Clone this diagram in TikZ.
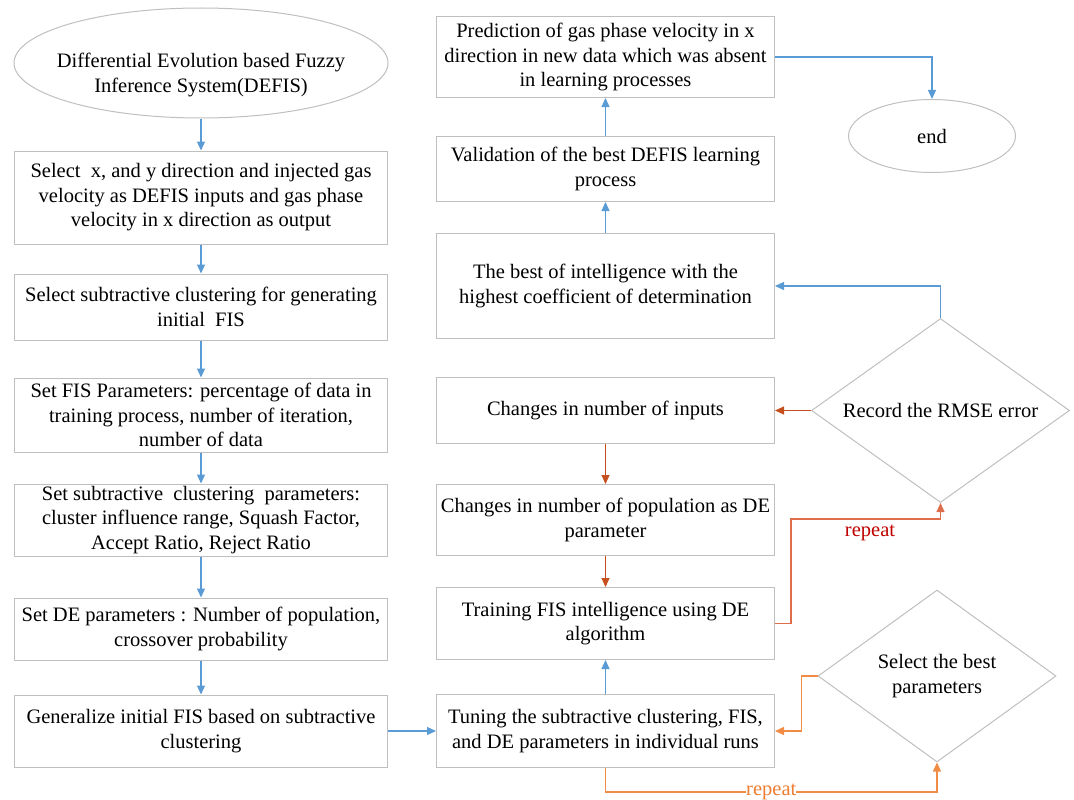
\documentclass[tikz,border=0pt]{standalone}
\usepackage{fontspec}
\setmainfont{Liberation Serif}
\usetikzlibrary{positioning,shapes.geometric,arrows.meta}
\definecolor{flowblue}{RGB}{91,155,213}
\definecolor{rustline}{RGB}{197,80,30}
\definecolor{repline}{RGB}{222,110,75}
\definecolor{repred}{RGB}{192,0,0}
\definecolor{orline}{RGB}{240,140,70}
\definecolor{ortext}{RGB}{237,125,49}
\definecolor{boxgray}{RGB}{191,191,191}

\begin{document}
\begin{tikzpicture}[x=1pt,y=-1pt,
    font=\fontsize{20.5}{24.5}\selectfont,
    every node/.style={align=center, inner sep=2pt},
    proc/.style={draw=boxgray, line width=1pt, minimum width=373pt},
    rproc/.style={draw=boxgray, line width=1pt, minimum width=338pt},
    term/.style={ellipse, draw=boxgray, line width=1pt},
    cond/.style={diamond, draw=boxgray, line width=1pt, inner sep=0pt, aspect=1.4},
    bluearr/.style={draw=flowblue, line width=1.2pt, -{Triangle[width=8pt,length=9pt]}},
    rustarr/.style={draw=rustline, line width=1.2pt, -{Triangle[width=8pt,length=9pt]}},
    reparr/.style={draw=repline, line width=1.2pt, -{Triangle[width=8pt,length=9pt]}},
    orarr/.style={draw=orline, line width=1.2pt, -{Triangle[width=8pt,length=9pt]}}]
      \useasboundingbox (0,0) rectangle (1074,800);

      % Left column, top to bottom
      \node[term, inner xsep=-16pt, inner ysep=12pt, minimum width=374pt, minimum height=110pt] (start) at (201,63)
        {\raisebox{-12pt}[\height][\depth]{\begin{tabular}{@{}c@{}}Differential Evolution based Fuzzy\\Inference System(DEFIS)\end{tabular}}};
      \node[proc, minimum height=93pt, below=32pt of start] (sel1)
        {Select\ \ x, and y direction and injected gas\\velocity as DEFIS inputs and gas phase\\velocity in x direction as output};
      \node[proc, minimum height=66pt, below=29pt of sel1] (sel2)
        {Select subtractive clustering for generating\\initial\ \ FIS};
      \node[proc, minimum height=74pt, below=37pt of sel2] (fisp)
        {Set FIS Parameters: percentage of data in\\training process, number of iteration,\\number of data};
      \node[proc, minimum height=72pt, below=31pt of fisp] (subp)
        {Set subtractive\ \ clustering\ \ parameters:\\cluster influence range, Squash Factor,\\Accept Ratio, Reject Ratio};
      \node[proc, minimum height=62pt, below=41pt of subp] (dep)
        {Set DE parameters : Number of population,\\crossover probability};
      \node[proc, minimum height=72pt, below=34pt of dep] (gen)
        {Generalize initial FIS based on subtractive\\clustering};

      % Right column, bottom to top
      \node[rproc, minimum height=73pt, right=48pt of gen] (tun)
        {Tuning the subtractive clustering, FIS,\\and DE parameters in individual runs};
      \node[rproc, minimum height=72pt, above=34pt of tun] (trn)
        {Training FIS intelligence using DE\\algorithm};
      \node[rproc, minimum height=71pt, above=31pt of trn] (pop)
        {Changes in number of population as DE\\parameter};
      \node[rproc, minimum height=66pt, above=40pt of pop] (inp)
        {Changes in number of inputs};
      \node[rproc, minimum height=105pt, above=38pt of inp] (best)
        {The best of intelligence with the\\highest coefficient of determination};
      \node[rproc, minimum height=65pt, above=31pt of best] (val)
        {Validation of the best DEFIS learning\\process};
      \node[rproc, minimum height=81pt, above=38pt of val] (pred)
        {Prediction of gas phase velocity in x\\direction in new data which was absent\\in learning processes};

      % Decisions and end
      \node[cond, minimum width=258pt, minimum height=184pt, right=36pt of inp] (rmse)
        {Record the RMSE error};
      \node[cond, minimum width=238pt, minimum height=172pt] (pick) at (937,676)
        {Select the best\\parameters};
      \node[term, minimum width=167pt, minimum height=73pt] (fin) at (932,136) {end};

      % Main flow
      \draw[bluearr] (start.south) -- (sel1.north);
      \draw[bluearr] (sel1.south) -- (sel2.north);
      \draw[bluearr] (sel2.south) -- (fisp.north);
      \draw[bluearr] (fisp.south) -- (subp.north);
      \draw[bluearr] (subp.south) -- (dep.north);
      \draw[bluearr] (dep.south) -- (gen.north);
      \draw[bluearr] (gen.east) -- (tun.west);
      \draw[bluearr] (tun.north) -- (trn.south);

      % Inner loop
      \draw[reparr] (trn.east) -- ++(16,0) |- ([yshift=-16pt]rmse.south) -- (rmse.south);
      \node[text=repred] (rep1) at (870,533) {repeat};
      \draw[rustarr] (rmse.west) -- (inp.east);
      \draw[rustarr] (inp.south) -- (pop.north);
      \draw[rustarr] (pop.south) -- (trn.north);

      % Outer loop
      \draw[orarr] (pick.west) -- ++(-16,0) |- (tun.east);
      \draw[orarr] (tun.south) -- ++(0,24) -| node[pos=0.25, fill=white, text=ortext, inner sep=0pt] (rep2) {repeat} (pick.south);

      % Result
      \draw[bluearr] (rmse.north) |- (best.east);
      \draw[bluearr] (best.north) -- (val.south);
      \draw[bluearr] (val.north) -- (pred.south);
      \draw[bluearr] (pred.east) -| (fin.north);
\end{tikzpicture}
\end{document}
